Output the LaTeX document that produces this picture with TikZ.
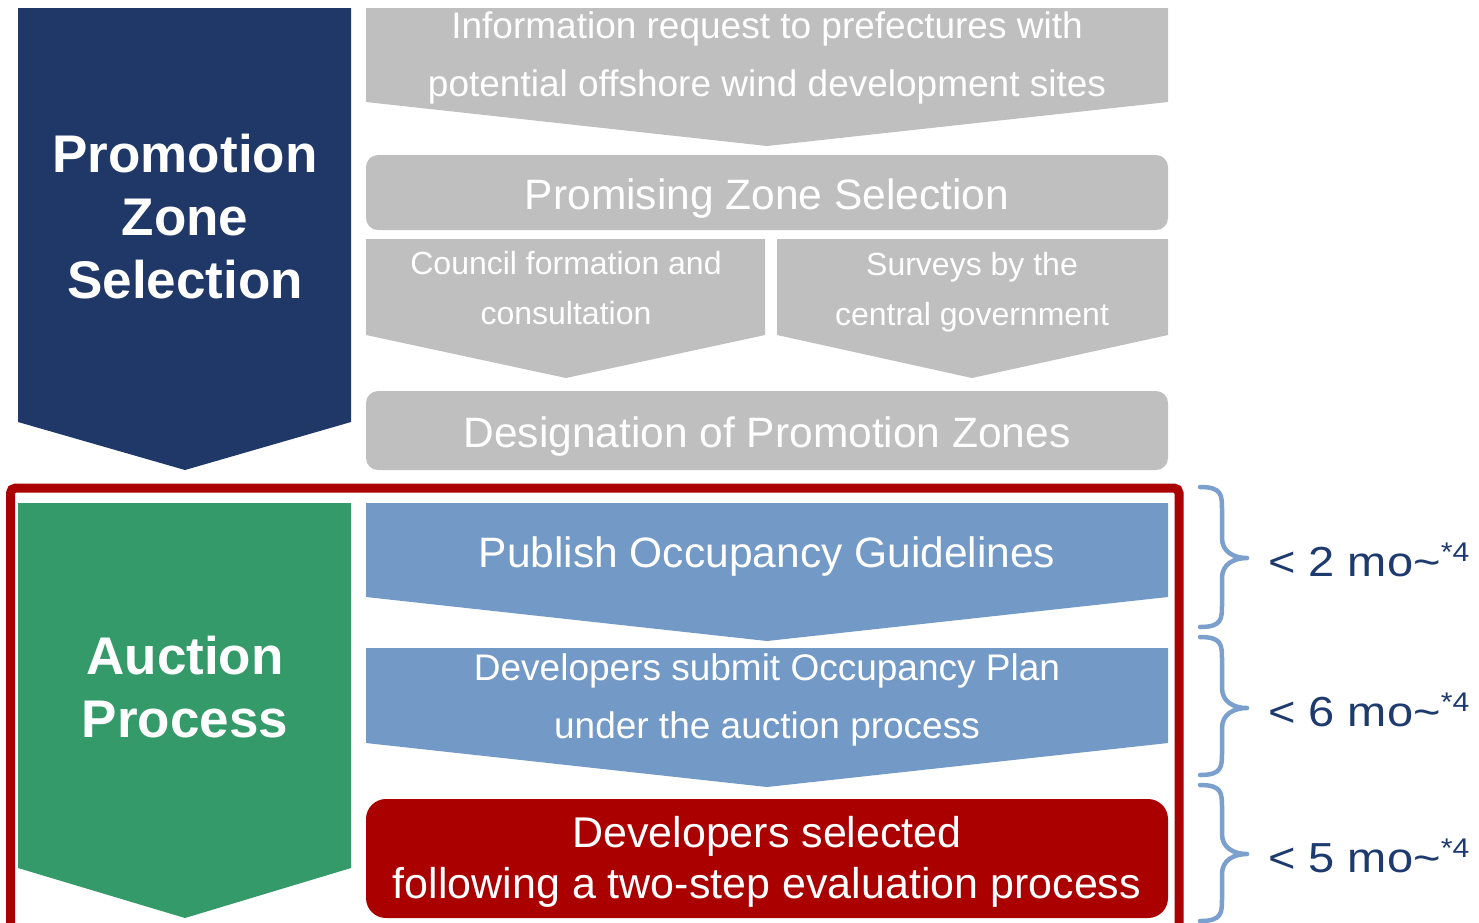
\documentclass[tikz,border=0pt]{standalone}
\usepackage{fontspec}
\setmainfont{Liberation Sans}
\newfontfamily\widefont[FakeStretch=1.12]{Liberation Sans}
\definecolor{navyc}{HTML}{1F3868}
\definecolor{greenc}{HTML}{349A69}
\definecolor{grayc}{HTML}{BFBFBF}
\definecolor{bluec}{HTML}{7399C6}
\definecolor{redc}{HTML}{AA0000}
\definecolor{bracec}{HTML}{7BA0CD}
\definecolor{labelc}{HTML}{1F3A6E}
\tikzset{
  sidetxt/.style={text=white, font=\fontsize{53}{63}\selectfont\bfseries, align=center, inner sep=0},
  bigtxt/.style={text=white, font=\fontsize{42.5}{50}\selectfont, align=center, inner sep=0},
  midtxt/.style={text=white, font=\fontsize{37}{58}\selectfont, align=center, inner sep=0},
  smalltxt/.style={text=white, font=\fontsize{32}{50}\selectfont, align=center, inner sep=0},
  seltxt/.style={text=white, font=\fontsize{43}{51}\selectfont, align=center, inner sep=0},
  monthtxt/.style={text=labelc, font=\widefont\fontsize{42}{50}\selectfont, anchor=base west, inner sep=0},
  bracestyle/.style={draw=bracec, line width=4.5pt, line cap=round, line join=round},
}
\newcommand{\monthlabel}[1]{< #1 mo\textasciitilde\raisebox{15pt}{\fontsize{27}{30}\selectfont *4}}
\begin{document}
\begin{tikzpicture}[x=1pt,y=-1pt]
\useasboundingbox (0,0) rectangle (1479,922);
% left arrows
\fill[navyc] (18,8) -- (351,8) -- (351,422) -- (185,470) -- (18,422) -- cycle;
\fill[greenc] (18,503) -- (351,503) -- (351,868) -- (185,918) -- (18,868) -- cycle;
\node[sidetxt] (pzs) at (185,216.5) {Promotion\\Zone\\Selection};
\node[sidetxt] (ap) at (185,687.5) {Auction\\Process};
% gray steps
\fill[grayc] (366,8) -- (1168,8) -- (1168,102) -- (767,146) -- (366,102) -- cycle;
\node[midtxt] (info) at (767,58.4) {Information request to prefectures with\\potential offshore wind development sites};
\fill[grayc, rounded corners=12pt] (366,155) rectangle (1168,230);
\node[bigtxt, anchor=base] (prom) at (767,209) {Promising Zone Selection};
\fill[grayc] (366,239) -- (765,239) -- (765,335) -- (566,378) -- (366,335) -- cycle;
\node[smalltxt] (council) at (566,288.5) {Council formation and\\consultation};
\fill[grayc] (777,239) -- (1168,239) -- (1168,335) -- (972,378) -- (777,335) -- cycle;
\node[smalltxt] (survey) at (972,292) {Surveys by the\\central government};
\fill[grayc, rounded corners=12pt] (366,391) rectangle (1168,470);
\node[bigtxt, anchor=base] (desig) at (767,447) {Designation of Promotion Zones};
% red frame
\draw[redc, line width=9pt, rounded corners=5pt] (10.5,488) rectangle (1179,960);
% blue steps
\fill[bluec] (366,503) -- (1168,503) -- (1168,597) -- (767,641) -- (366,597) -- cycle;
\node[bigtxt, anchor=base] (pub) at (767,567) {Publish Occupancy Guidelines};
\fill[bluec] (366,648) -- (1168,648) -- (1168,743) -- (767,787) -- (366,743) -- cycle;
\node[midtxt] (sub) at (767,700) {Developers submit Occupancy Plan\\under the auction process};
\fill[redc, rounded corners=20pt] (366,799) rectangle (1168,918);
\node[seltxt] (sel) at (767,862) {Developers selected\\following a two-step evaluation process};
% braces
\draw[bracestyle] (1200,487) .. controls (1222,487) and (1222,495) .. (1222,510) -- (1222,538) .. controls (1222,552) and (1234,558) .. (1247,558) .. controls (1234,558) and (1222,564) .. (1222,578) -- (1222,604) .. controls (1222,619) and (1222,627) .. (1200,627);
\draw[bracestyle] (1200,637) .. controls (1222,637) and (1222,645) .. (1222,660) -- (1222,688) .. controls (1222,702) and (1234,708) .. (1247,708) .. controls (1234,708) and (1222,714) .. (1222,728) -- (1222,752) .. controls (1222,767) and (1222,775) .. (1200,775);
\draw[bracestyle] (1200,785) .. controls (1222,785) and (1222,793) .. (1222,808) -- (1222,834) .. controls (1222,848) and (1234,854) .. (1247,854) .. controls (1234,854) and (1222,860) .. (1222,874) -- (1222,898) .. controls (1222,913) and (1222,921) .. (1200,921);
\node[monthtxt] (m1) at (1268,576) {\monthlabel{2}};
\node[monthtxt] (m2) at (1268,726) {\monthlabel{6}};
\node[monthtxt] (m3) at (1268,872) {\monthlabel{5}};
\end{tikzpicture}
\end{document}
